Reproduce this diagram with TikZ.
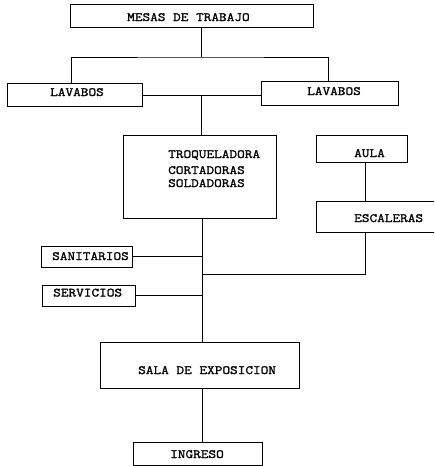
\documentclass[tikz,border=0pt]{standalone}
\usepackage{fontspec}
\setmonofont{Latin Modern Mono}[FakeStretch=1.18,FakeBold=1.5]
\begin{document}
\begin{tikzpicture}[x=1pt,y=-1pt,
  box/.style={draw, line width=0.9pt, rectangle, inner sep=0pt},
  lbl/.style={font=\ttfamily\fontsize{12.6}{14}\selectfont, inner sep=0pt, anchor=base west},
  wire/.style={line width=0.9pt}]
\useasboundingbox (0,0) rectangle (434,466);
\clip (0,0) rectangle (434,466);

% boxes
\node[box, minimum width=243, minimum height=23] (mesas) at (191.5,15.5) {};
\node[box, minimum width=135, minimum height=23] (lavL)  at (74.5,94.5) {};
\node[box, minimum width=137, minimum height=24] (lavR)  at (329.5,93) {};
\node[box, minimum width=153, minimum height=83] (troq)  at (199.5,176.5) {};
\node[box, minimum width=91,  minimum height=27] (aula)  at (361.5,148.5) {};
\node[box, minimum width=140, minimum height=31] (esc)   at (386,216.5) {};
\node[box, minimum width=91,  minimum height=21] (sanit) at (86.5,256.5) {};
\node[box, minimum width=93,  minimum height=21] (serv)  at (88.5,295.5) {};
\node[box, minimum width=199, minimum height=46] (sala)  at (199.5,365) {};
\node[box, minimum width=129, minimum height=23] (ingr)  at (197.5,453.5) {};

% labels
\node[lbl] (tmesas) at (127,21)  {MESAS DE TRABAJO};
\node[lbl] (tlavL)  at (50,96)   {LAVABOS};
\node[lbl] (tlavR)  at (307,95)  {LAVABOS};
\node[lbl] (ttroq1) at (168,158) {TROQUELADORA};
\node[lbl] (ttroq2) at (168,174) {CORTADORAS};
\node[lbl] (ttroq3) at (168,187) {SOLDADORAS};
\node[lbl] (taula)  at (354,157) {AULA};
\node[lbl] (tesc)   at (354,222) {ESCALERAS};
\node[lbl] (tsanit) at (52,260)  {SANITARIOS};
\node[lbl] (tserv)  at (53,296.5) {SERVICIOS};
\node[lbl] (tsala)  at (138,374) {SALA DE EXPOSICION};
\node[lbl] (tingr)  at (170,458) {INGRESO};

% junction points
\coordinate (jtop) at (201,57);
\coordinate (jmid) at (201,95);
\coordinate (jesc) at (202,274);

% connectors
\draw[wire] (mesas.south -| jtop) -- (jtop);
\draw[wire] (lavL.north -| 71,0) |- (jtop) -| (lavR.north -| 328,0);
\draw[wire] (lavL.east |- jmid) -- (lavR.west |- jmid);
\draw[wire] (jmid) -- (troq.north -| jmid);
\draw[wire] (troq.south -| jesc) -- (sala.north -| jesc);
\draw[wire] (aula.south -| 365.5,0) -- (esc.north -| 365.5,0);
\draw[wire] (esc.south -| 365.5,0) |- (jesc);
\draw[wire] (sanit.east) -- (sanit.east -| jesc);
\draw[wire] (serv.east) -- (serv.east -| jesc);
\draw[wire] (sala.south -| 202.5,0) -- (ingr.north -| 202.5,0);
\end{tikzpicture}
\end{document}
